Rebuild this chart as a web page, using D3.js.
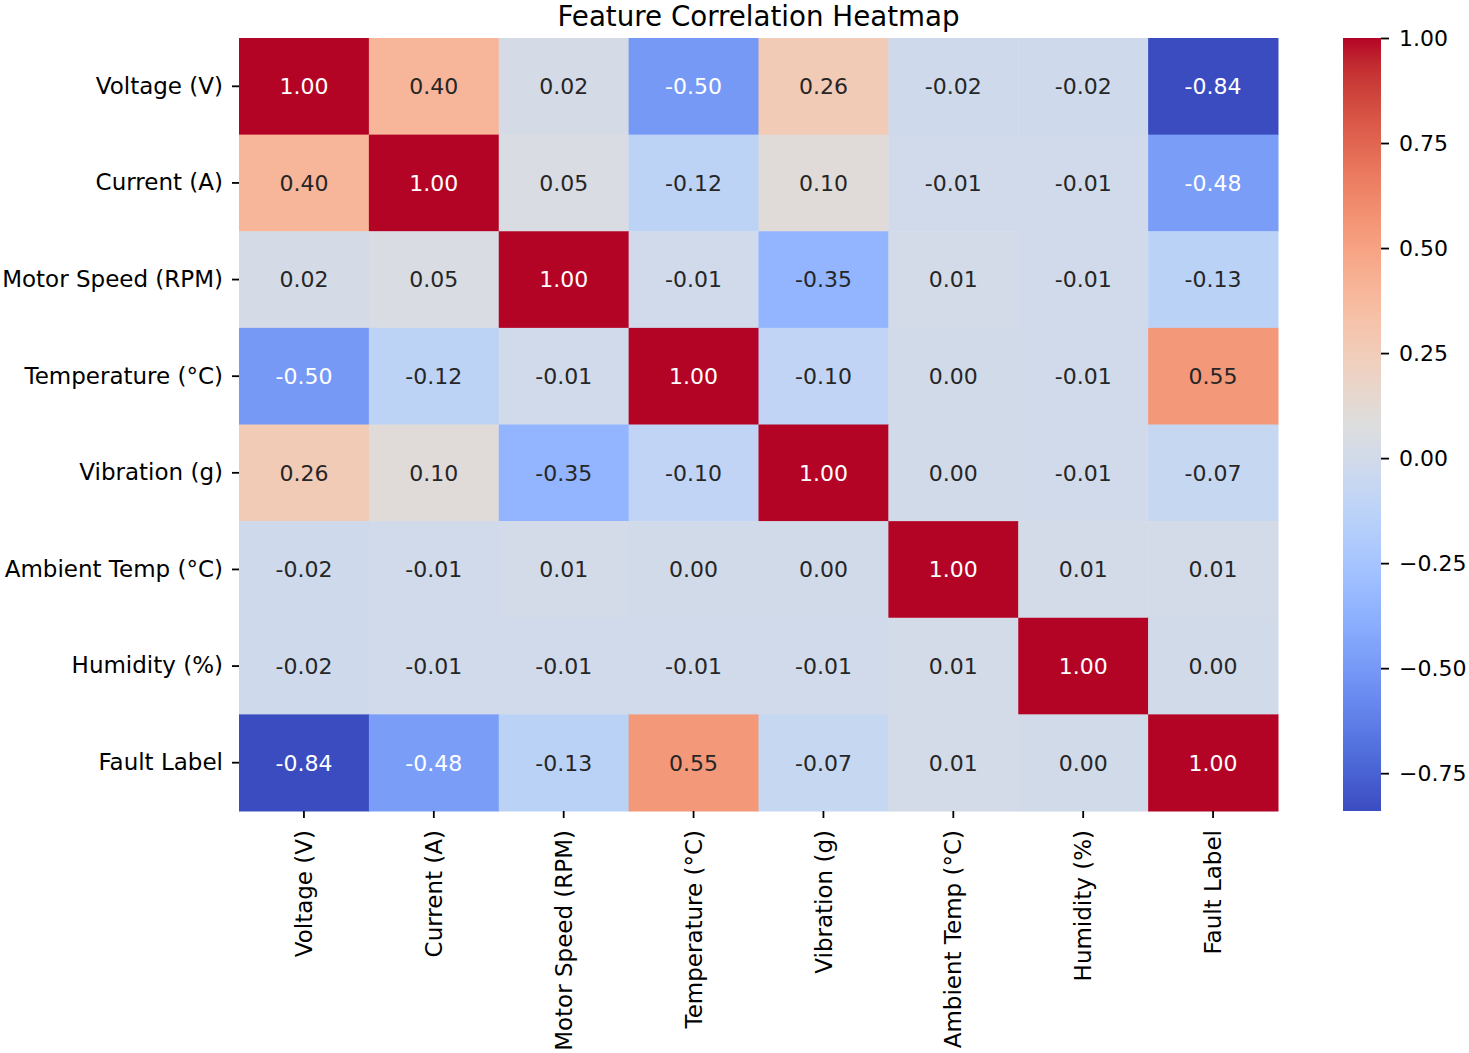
<!DOCTYPE html>
<html>
<head>
<meta charset="utf-8">
<script src="https://cdn.jsdelivr.net/npm/d3@7"></script>
<style>
    body { margin: 0; background: #fff; }
    text { font-family: 'DejaVu Sans', sans-serif; }
</style>
</head>
<body>
<svg id="chart" width="1469" height="1053"></svg>
<script>
const features = ['Voltage (V)', 'Current (A)', 'Motor Speed (RPM)', 'Temperature (°C)',
    'Vibration (g)', 'Ambient Temp (°C)', 'Humidity (%)', 'Fault Label'];

// correlation rows, same order as features
const rowVoltage     = [1.00, 0.40, 0.02, -0.50, 0.26, -0.02, -0.02, -0.84];
const rowCurrent     = [0.40, 1.00, 0.05, -0.12, 0.10, -0.01, -0.01, -0.48];
const rowMotorSpeed  = [0.02, 0.05, 1.00, -0.01, -0.35, 0.01, -0.01, -0.13];
const rowTemperature = [-0.50, -0.12, -0.01, 1.00, -0.10, 0.00, -0.01, 0.55];
const rowVibration   = [0.26, 0.10, -0.35, -0.10, 1.00, 0.00, -0.01, -0.07];
const rowAmbient     = [-0.02, -0.01, 0.01, 0.00, 0.00, 1.00, 0.01, 0.01];
const rowHumidity    = [-0.02, -0.01, -0.01, -0.01, -0.01, 0.01, 1.00, 0.00];
const rowFault       = [-0.84, -0.48, -0.13, 0.55, -0.07, 0.01, 0.00, 1.00];
const matrix = [rowVoltage, rowCurrent, rowMotorSpeed, rowTemperature,
    rowVibration, rowAmbient, rowHumidity, rowFault];

const colorbarTicks = [1.00, 0.75, 0.50, 0.25, 0.00, -0.25, -0.50, -0.75];
const chartTitle = 'Feature Correlation Heatmap';

// coolwarm (Moreland) control points, rgb 0-255
const coolwarm = [
    [59, 76, 192], [68, 90, 204], [77, 104, 215], [87, 117, 225], [98, 130, 234],
    [108, 142, 241], [119, 154, 247], [130, 165, 251], [141, 176, 254], [152, 185, 255],
    [163, 194, 255], [174, 201, 253], [184, 208, 249], [194, 213, 244], [204, 217, 238],
    [213, 219, 230], [221, 221, 221], [229, 216, 209], [236, 211, 197], [241, 204, 185],
    [245, 196, 173], [247, 187, 160], [247, 177, 148], [247, 166, 135], [244, 154, 123],
    [241, 141, 111], [236, 127, 99], [229, 112, 88], [222, 96, 77], [213, 80, 66],
    [203, 62, 56], [192, 40, 47], [180, 4, 38]
];

const svg = d3.select('#chart');
const plotLeft = 239, plotTop = 38, plotW = 1039, plotH = 773;
const cbX = 1343, cbW = 38;
const annotSize = 22;
const labelSize = 23;
const tickLen = 7;

const cells = [];
matrix.forEach((row, i) => row.forEach((v, j) => cells.push({row: features[i], col: features[j], value: v})));

const vmin = d3.min(cells, d => d.value);
const vmax = d3.max(cells, d => d.value);

const cmap = d3.scaleLinear()
    .domain(d3.range(coolwarm.length).map(i => i / (coolwarm.length - 1)))
    .range(coolwarm.map(c => d3.rgb(c[0], c[1], c[2]).formatHex()))
    .interpolate(d3.interpolateRgb)
    .clamp(true);
const norm = d3.scaleLinear().domain([vmin, vmax]).range([0, 1]);
const color = v => cmap(norm(v));

// seaborn picks white or dark text from the cell luminance
const luminance = c => {
    const rgb = d3.rgb(c);
    const lin = x => {
        x = x / 255;
        return x <= 0.03928 ? x / 12.92 : Math.pow((x + 0.055) / 1.055, 2.4);
    };
    return 0.2126 * lin(rgb.r) + 0.7152 * lin(rgb.g) + 0.0722 * lin(rgb.b);
};

const x = d3.scaleBand().domain(features).range([plotLeft, plotLeft + plotW]);
const y = d3.scaleBand().domain(features).range([plotTop, plotTop + plotH]);

svg.append('g')
    .selectAll('rect')
    .data(cells)
    .join('rect')
    .attr('x', d => x(d.col))
    .attr('y', d => y(d.row))
    .attr('width', x.bandwidth() + 0.5)
    .attr('height', y.bandwidth() + 0.5)
    .attr('fill', d => color(d.value));

svg.append('g')
    .selectAll('text')
    .data(cells)
    .join('text')
    .attr('x', d => x(d.col) + x.bandwidth() / 2)
    .attr('y', d => y(d.row) + y.bandwidth() / 2)
    .attr('dy', '0.36em')
    .attr('text-anchor', 'middle')
    .attr('font-size', annotSize)
    .attr('fill', d => luminance(color(d.value)) > 0.408 ? '#262626' : '#ffffff')
    .text(d => d.value.toFixed(2));

// y axis
const yAxis = svg.append('g')
    .attr('transform', `translate(${plotLeft},0)`)
    .call(d3.axisLeft(y).tickSize(tickLen).tickPadding(9));
yAxis.select('.domain').remove();
yAxis.selectAll('line').attr('stroke', '#000').attr('stroke-width', 1.8);
yAxis.selectAll('text').attr('font-size', labelSize).attr('fill', '#000');

// x axis, labels turned upright
const xAxis = svg.append('g')
    .attr('transform', `translate(0,${plotTop + plotH})`)
    .call(d3.axisBottom(x).tickSize(tickLen).tickPadding(9));
xAxis.select('.domain').remove();
xAxis.selectAll('line').attr('stroke', '#000').attr('stroke-width', 1.8);
xAxis.selectAll('text')
    .attr('font-size', labelSize)
    .attr('fill', '#000')
    .attr('text-anchor', 'end')
    .attr('x', 0)
    .attr('y', 0)
    .attr('dy', '0.35em')
    .attr('transform', `translate(0,${tickLen + 12}) rotate(-90)`);

// colorbar
const cbY = d3.scaleLinear().domain([vmin, vmax]).range([plotTop + plotH, plotTop]);
const grad = svg.append('defs')
    .append('linearGradient')
    .attr('id', 'cbgrad')
    .attr('x1', 0).attr('y1', 1).attr('x2', 0).attr('y2', 0);
grad.selectAll('stop')
    .data(d3.range(65).map(i => i / 64))
    .join('stop')
    .attr('offset', d => d)
    .attr('stop-color', d => cmap(d));

svg.append('rect')
    .attr('x', cbX)
    .attr('y', plotTop)
    .attr('width', cbW)
    .attr('height', plotH)
    .attr('fill', 'url(#cbgrad)');

const cbAxis = svg.append('g')
    .attr('transform', `translate(${cbX + cbW},0)`)
    .call(d3.axisRight(cbY).tickValues(colorbarTicks).tickSize(tickLen + 1).tickPadding(10)
        .tickFormat(d => d3.format('.2f')(d).replace('-', '\u2212')));
cbAxis.select('.domain').remove();
cbAxis.selectAll('line').attr('stroke', '#000').attr('stroke-width', 1.8);
cbAxis.selectAll('text').attr('font-size', annotSize).attr('fill', '#000');

svg.append('text')
    .attr('x', plotLeft + plotW / 2)
    .attr('y', 26)
    .attr('text-anchor', 'middle')
    .attr('font-size', 27.7)
    .attr('fill', '#000')
    .text(chartTitle);
</script>
</body>
</html>
